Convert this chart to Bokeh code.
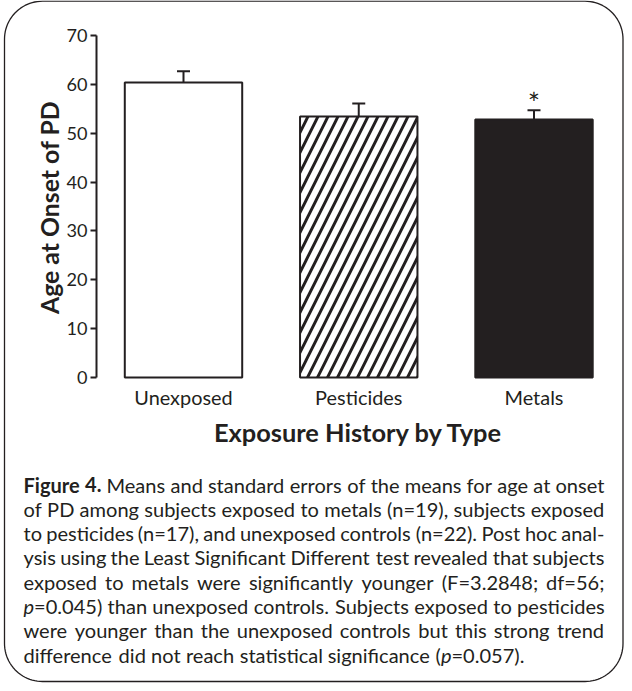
import os, re, struct, math
import numpy as np
from bokeh.plotting import figure
from bokeh.models import Range1d, FixedTicker, Whisker, TeeHead, ColumnDataSource
from bokeh.core.properties import value, field
from bokeh.embed import file_html
from bokeh.resources import INLINE

# ---------------- data ----------------
categories = ["Unexposed", "Pesticides", "Metals"]
means = [60.4, 53.4, 52.8]
sem = [2.3, 2.7, 1.9]
significance = ["", "", "*"]
y_ticks = [0, 10, 20, 30, 40, 50, 60, 70]
x_title = "Exposure History by Type"
y_title = "Age at Onset of PD"
caption_lines = [
    "<b>Figure</b> <b>4.</b> Means and standard errors of the means for age at onset",
    "of PD among subjects exposed to metals (n=19), subjects exposed",
    "to pesticides (n=17), and unexposed controls (n=22). Post hoc anal-",
    "ysis using the Least Significant Different test revealed that subjects",
    "exposed to metals were significantly younger (F=3.2848; df=56;",
    "<i>p</i>=0.045) than unexposed controls. Subjects exposed to pesticides",
    "were younger than the unexposed controls but this strong trend",
    "difference did not reach statistical significance (<i>p</i>=0.057).",
]

INK = "#231f20"
FONT = "Lato"

# ---------------- font metrics (for text fitting / justification) ----------------
class Metrics:
    def __init__(self, path):
        d = open(path, "rb").read()
        n = struct.unpack(">H", d[4:6])[0]
        t = {}
        for i in range(n):
            tag, _, off, ln = struct.unpack(">4sIII", d[12 + 16 * i:28 + 16 * i])
            t[tag] = off
        h = t[b"head"]
        self.upem = struct.unpack(">H", d[h + 18:h + 20])[0]
        hh = t[b"hhea"]
        nhm = struct.unpack(">H", d[hh + 34:hh + 36])[0]
        hm = t[b"hmtx"]
        self.adv = [struct.unpack(">H", d[hm + 4 * i:hm + 4 * i + 2])[0] for i in range(nhm)]
        c = t[b"cmap"]
        nsub = struct.unpack(">H", d[c + 2:c + 4])[0]
        self.cmap = {}
        for i in range(nsub):
            pid, eid, off = struct.unpack(">HHI", d[c + 4 + 8 * i:c + 12 + 8 * i])
            so = c + off
            fmt = struct.unpack(">H", d[so:so + 2])[0]
            if fmt != 4:
                continue
            segx2 = struct.unpack(">H", d[so + 6:so + 8])[0]
            seg = segx2 // 2
            ends = struct.unpack(">%dH" % seg, d[so + 14:so + 14 + segx2])
            starts = struct.unpack(">%dH" % seg, d[so + 16 + segx2:so + 16 + 2 * segx2])
            deltas = struct.unpack(">%dh" % seg, d[so + 16 + 2 * segx2:so + 16 + 3 * segx2])
            rp = so + 16 + 3 * segx2
            ros = struct.unpack(">%dH" % seg, d[rp:rp + segx2])
            for s in range(seg):
                if starts[s] > 0x17F:
                    continue
                for ch in range(starts[s], min(ends[s], 0x17F) + 1):
                    if ros[s] == 0:
                        g = (ch + deltas[s]) & 0xFFFF
                    else:
                        addr = rp + 2 * s + ros[s] + 2 * (ch - starts[s])
                        g = struct.unpack(">H", d[addr:addr + 2])[0]
                        if g:
                            g = (g + deltas[s]) & 0xFFFF
                    self.cmap.setdefault(ch, g)
            if self.cmap:
                break

    def width(self, text, size):
        tot = 0
        for ch in text:
            g = self.cmap.get(ord(ch), 0)
            tot += self.adv[g] if g < len(self.adv) else self.adv[-1]
        return tot * size / self.upem


def find_font(name):
    roots = ["/usr/share/fonts", "/usr/local/share/fonts",
             os.path.expanduser("~/.fonts"), os.path.expanduser("~/.local/share/fonts")]
    for r in roots:
        for dp, dn, fn in os.walk(r):
            if name in fn:
                return os.path.join(dp, name)
    return None


metrics = {}
for style, fname in [("normal", "Lato-Regular.ttf"), ("bold", "Lato-Bold.ttf"), ("italic", "Lato-Italic.ttf")]:
    try:
        pth = find_font(fname)
        metrics[style] = Metrics(pth) if pth else None
    except Exception:
        metrics[style] = None


def tw(text, style="normal", size=1.0):
    m = metrics.get(style)
    if m is None:
        return len(text) * 0.5 * size * (1.06 if style == "bold" else 1.0)
    return m.width(text, size)


# ---------------- layout (page pixels) ----------------
W, H = 624, 683
PAGE_L, PAGE_T = 8, 8
Y0_PX, Y70_PX = 385.0, 43.0
PPU = (Y0_PX - Y70_PX) / 70.0
CAT1_PX, CAT_STEP = 191.0, 175.25
YAXIS_PX = 104.0

x_lo = 1 + (PAGE_L - CAT1_PX) / CAT_STEP
x_hi = 1 + (PAGE_L + W - CAT1_PX) / CAT_STEP
y_lo = -(PAGE_T + H - Y0_PX) / PPU
y_hi = (Y0_PX - PAGE_T) / PPU
yaxis_x = 1 + (YAXIS_PX - CAT1_PX) / CAT_STEP

tick_size = 21.0 / tw("70")
cat_size = np.mean([101.0 / tw(categories[0]), 87.7 / tw(categories[1]), 58.0 / tw(categories[2])])
xt_size = 292.0 / tw(x_title, "bold")
yt_size = 214.0 / tw(y_title, "bold")

p = figure(width=W, height=H, output_backend="svg", toolbar_location=None,
           x_range=Range1d(x_lo, x_hi), y_range=Range1d(y_lo, y_hi), min_border=0)
p.extra_x_ranges = {"px": Range1d(PAGE_L, PAGE_L + W)}
p.extra_y_ranges = {"py": Range1d(PAGE_T + H, PAGE_T)}
p.outline_line_color = None
p.background_fill_color = "white"
p.border_fill_color = "white"
p.xgrid.visible = False
p.ygrid.visible = False

# y axis
ya = p.yaxis[0]
ya.fixed_location = yaxis_x
ya.bounds = (0, 70)
ya.ticker = FixedTicker(ticks=y_ticks)
ya.minor_tick_line_color = None
ya.major_tick_in = 0
ya.major_tick_out = 6
ya.axis_line_width = 2
ya.axis_line_color = INK
ya.major_tick_line_width = 2
ya.major_tick_line_color = INK
ya.major_label_text_font = FONT
ya.major_label_text_font_size = "%.1fpx" % tick_size
ya.major_label_text_color = INK
ya.major_label_standoff = 3

# x axis (category labels)
xa = p.xaxis[0]
xa.fixed_location = 0
xa.ticker = FixedTicker(ticks=[1, 2, 3])
xa.major_label_overrides = {i + 1: c for i, c in enumerate(categories)}
xa.axis_line_color = None
xa.major_tick_line_color = None
xa.minor_tick_line_color = None
xa.major_tick_in = 0
xa.major_tick_out = 0
xa.major_label_standoff = 7
xa.major_label_text_font = FONT
xa.major_label_text_font_size = "%.1fpx" % cat_size
xa.major_label_text_color = INK

# bars
src = ColumnDataSource(dict(
    x=[1, 2, 3], top=means,
    upper=[m + s for m, s in zip(means, sem)],
    lower=[m - s for m, s in zip(means, sem)],
    fill=["white", "white", INK],
    hatch=[" ", "/", " "],
    sig=significance,
))
p.vbar(x="x", top="top", bottom=0, width=0.67, source=src,
       fill_color="fill", line_color=INK, line_width=2,
       hatch_pattern="hatch", hatch_color=INK, hatch_scale=20, hatch_weight=2.9)

wh = Whisker(source=src, base="x", upper="upper", lower="lower", dimension="height",
             line_color=INK, line_width=2,
             upper_head=TeeHead(size=13, line_color=INK, line_width=2),
             lower_head=TeeHead(size=13, line_color=INK, line_width=2))
p.add_layout(wh)

p.text(x="x", y="upper", text="sig", source=src, y_offset=-8,
       text_align="center", text_baseline="alphabetic",
       text_font=value(FONT), text_font_size=value("29px"), text_color=INK)

# axis titles
p.text(x=[366], y=[439], text=[x_title], x_range_name="px", y_range_name="py",
       text_align="center", text_baseline="alphabetic", text_font=value(FONT),
       text_font_style="bold", text_font_size=value("%.1fpx" % xt_size), text_color=INK)
p.text(x=[57], y=[215], text=[y_title], x_range_name="px", y_range_name="py",
       angle=math.pi / 2, text_align="center", text_baseline="alphabetic",
       text_font=value(FONT), text_font_style="bold",
       text_font_size=value("%.1fpx" % yt_size), text_color=INK)

# caption (justified)
CAP_L, CAP_R = 31.0, 612.0
BASE0, LSTEP = 492.0, 24.3


def parse_word(w):
    runs = []
    for m in re.finditer(r"<(b|i)>(.*?)</\1>|([^<]+)", w):
        if m.group(3):
            runs.append((m.group(3), "normal"))
        else:
            runs.append((m.group(2), "bold" if m.group(1) == "b" else "italic"))
    return runs


parsed = [[parse_word(w) for w in ln.split(" ")] for ln in caption_lines]
sp1 = tw(" ")
sizes = []
for li, words in enumerate(parsed):
    wsum = sum(tw(t, s) for w in words for t, s in w)
    if li == len(parsed) - 1:
        sizes.append(501.0 / (wsum + (len(words) - 1) * sp1))
    else:
        sizes.append((CAP_R - CAP_L) / (wsum + (len(words) - 1) * 0.4 * sp1))
cap_size = min(sizes)

rows = dict(x=[], y=[], text=[], style=[])
for li, words in enumerate(parsed):
    widths = [sum(tw(t, s, cap_size) for t, s in w) for w in words]
    if li < len(parsed) - 1:
        gap = (CAP_R - CAP_L - sum(widths)) / (len(words) - 1)
    else:
        gap = tw(" ", "normal", cap_size)
    xx = CAP_L
    yb = BASE0 + li * LSTEP
    for w, wd in zip(words, widths):
        xr = xx
        for t, s in w:
            rows["x"].append(xr)
            rows["y"].append(yb)
            rows["text"].append(t)
            rows["style"].append(s)
            xr += tw(t, s, cap_size)
        xx += wd + gap

p.text(x="x", y="y", text="text", source=ColumnDataSource(rows),
       x_range_name="px", y_range_name="py", text_align="left", text_baseline="alphabetic",
       text_font=value(FONT), text_font_style=field("style"),
       text_font_size=value("%.2fpx" % cap_size), text_color=INK)

# rounded frame around figure + caption
L, R, T, B, RAD = 12.0, 630.5, 8.7, 689.0, 38.0
def arc(cx, cy, a0, a1):
    a = np.linspace(a0, a1, 24)
    return cx + RAD * np.cos(a), cy + RAD * np.sin(a)
segs = [arc(L + RAD, T + RAD, math.pi, 1.5 * math.pi),
        arc(R - RAD, T + RAD, 1.5 * math.pi, 2 * math.pi),
        arc(R - RAD, B - RAD, 0, 0.5 * math.pi),
        arc(L + RAD, B - RAD, 0.5 * math.pi, math.pi)]
bx = np.concatenate([s[0] for s in segs] + [[L]])
by = np.concatenate([s[1] for s in segs] + [[T + RAD]])
p.line(bx, by, x_range_name="px", y_range_name="py", line_color=INK, line_width=1.3)

open("out.html", "w").write(file_html(p, INLINE))
